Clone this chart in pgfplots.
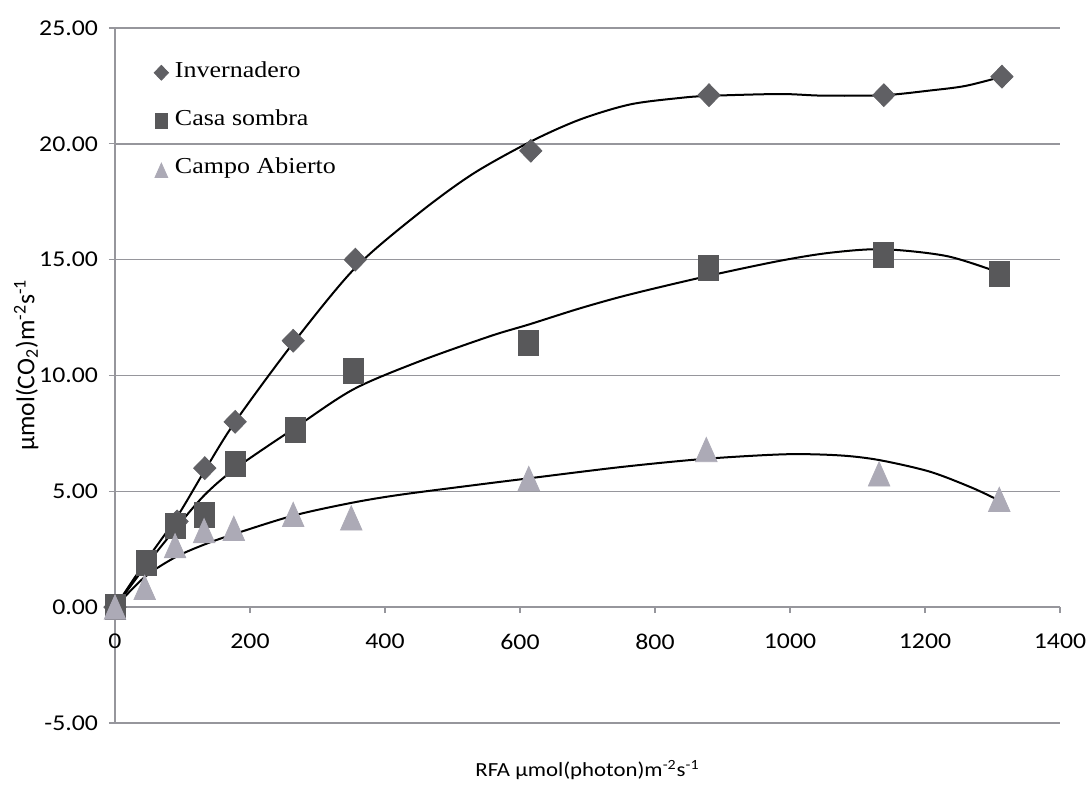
\documentclass[border=0pt]{standalone}
\usepackage{fontspec}
\setmainfont{Carlito}[FakeStretch=1.14]
\newfontfamily\legendfont{Liberation Serif}[FakeStretch=1.14]
\newfontfamily\ylabfont{Carlito}
\usepackage{pgfplots}
\pgfplotsset{compat=1.18}

\definecolor{gridgray}{RGB}{150,150,156}
\definecolor{invcol}{RGB}{96,96,100}
\definecolor{casacol}{RGB}{88,88,90}
\definecolor{campocol}{RGB}{172,170,182}

% marker-only series with a single small mark in the legend
\pgfplotsset{
  marker series/.style={
    only marks,
    legend image code/.code={\draw[##1, mark size=3.7pt] plot coordinates {(0pt,0pt)};}
  },
  trend/.style={black, line width=1pt, smooth, no markers, forget plot}
}

\begin{document}
\begin{tikzpicture}
\path[use as bounding box] (-57.5pt,-31.5pt) rectangle (486.5pt,361.5pt);
\begin{axis}[
  scale only axis, width=472.5pt, height=347.5pt,
  at={(0pt,0pt)}, anchor=south west,
  xmin=0, xmax=1400, ymin=-5, ymax=25,
  axis x line=middle, axis y line=left,
  hide obscured x ticks=false, hide obscured y ticks=false,
  xtick={0,200,...,1400}, ytick={-5,0,...,25},
  scaled ticks=false,
  ymajorgrids, grid style={gridgray, line width=0.7pt},
  axis line style={gridgray, line width=0.7pt, -},
  tick style={gridgray, line width=0.6pt},
  tick align=outside, major tick length=3pt,
  /pgf/number format/assume math mode=true,
  tick label style={font=\fontsize{11.3}{13}\selectfont},
  yticklabel style={/pgf/number format/.cd, fixed, fixed zerofill, precision=2, /tikz/.cd, xshift=-2pt},
  xticklabel style={/pgf/number format/1000 sep={}, anchor=north, yshift=-7pt},
  every axis x label/.style={at={(axis description cs:0.5,-0.068)}, anchor=center,
    font=\fontsize{10}{12}\selectfont},
  every axis y label/.style={at={(axis description cs:-0.094,0.515)}, rotate=90, anchor=center,
    font=\ylabfont\fontsize{12.8}{15}\selectfont},
  xlabel={RFA µmol(photon)m\textsuperscript{-2}s\textsuperscript{-1}},
  ylabel={µmol(CO\textsubscript{2})m\textsuperscript{-2}s\textsuperscript{-1}},
  legend style={at={(axis description cs:0.041,0.952)}, anchor=north west,
    draw=none, fill=none, font=\legendfont\fontsize{11.4}{13}\selectfont,
    row sep=13pt, column sep=3.2pt, inner sep=0pt,
    nodes={inner sep=0pt, text height=8pt, text depth=3pt}},
  legend cell align=left,
]
% measured points
\addplot[marker series, mark=diamond*, mark size=5.7pt,
  mark options={fill=invcol, draw=invcol, xscale=1.3}] coordinates {
  (0,0) (92,3.7) (133,6.0) (178,8.0) (264,11.5) (356,15.0)
  (616,19.7) (880,22.1) (1139,22.1) (1314,22.9)};
\addlegendentry{Invernadero}
\addplot[marker series, mark=square*, mark size=6.25pt,
  mark options={fill=casacol, draw=casacol, xscale=0.8}] coordinates {
  (0,0) (46,1.9) (90,3.5) (133,4.0) (179,6.2) (267,7.65) (353,10.2)
  (613,11.4) (879,14.65) (1138,15.2) (1310,14.4)};
\addlegendentry{Casa sombra}
\addplot[marker series, mark=triangle*, mark size=6.2pt,
  mark options={fill=campocol, draw=campocol, yshift=-2pt, yscale=1.3}] coordinates {
  (0,0) (44,0.85) (89,2.65) (132,3.3) (176,3.4) (264,4.0) (350,3.85)
  (613,5.55) (876,6.8) (1132,5.75) (1310,4.65)};
\addlegendentry{Campo Abierto}
% fitted trend curves
\addplot[trend] coordinates {
  (0,0) (46,2.0) (92,3.9) (133,5.9) (178,8.0) (264,11.4) (356,14.65)
  (450,17.0) (530,18.7) (616,20.1) (689,21.05) (763,21.7) (837,21.98)
  (880,22.07) (985,22.15) (1049,22.08) (1139,22.1) (1207,22.3) (1260,22.5) (1314,22.9)};
\addplot[trend] coordinates {
  (0,0) (46,1.8) (90,3.4) (133,4.85) (179,6.0) (267,7.75) (353,9.4)
  (450,10.6) (556,11.7) (613,12.2) (689,12.9) (763,13.5) (879,14.3)
  (985,14.95) (1060,15.3) (1138,15.45) (1233,15.15) (1314,14.4)};
\addplot[trend] coordinates {
  (0,0) (44,1.3) (89,2.15) (132,2.7) (176,3.15) (264,3.95) (350,4.5)
  (422,4.85) (541,5.3) (610,5.55) (750,6.05) (873,6.4) (994,6.6)
  (1074,6.55) (1132,6.35) (1207,5.85) (1270,5.15) (1310,4.6)};
\end{axis}
\end{tikzpicture}
\end{document}
